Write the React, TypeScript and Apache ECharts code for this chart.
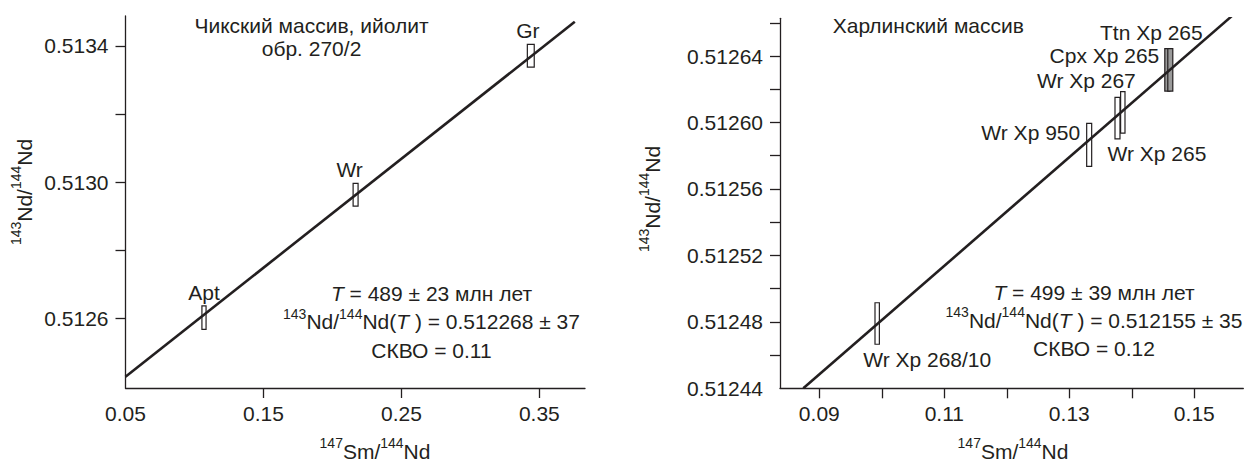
import React, { useEffect, useRef } from "react";
import * as echarts from "echarts";

// ---------- data: left panel (Чикский массив) ----------
const leftNames = ["Apt", "Wr", "Gr"];
const leftX = [0.1069, 0.2168, 0.3438];
const leftY = [0.512602, 0.512963, 0.513371];
const leftErrX = [0.0015, 0.0018, 0.0025];
const leftErrY = [0.0000345, 0.0000335, 0.0000335];
const leftIsoX = [0.05, 0.3757];
const leftIsoY = [0.512428, 0.513471];
const leftXTicks = [0.15, 0.25, 0.35];
const leftXLabels = [0.05, 0.15, 0.25, 0.35];
const leftYTicks = [0.5126, 0.5128, 0.513, 0.5132, 0.5134];
const leftYLabels = [0.5126, 0.513, 0.5134];

// ---------- data: right panel (Харлинский массив) ----------
const rightNames = ["Wr Хр 268/10", "Wr Хр 950", "Wr Хр 265", "Wr Хр 267", "Cpx Хр 265", "Ttn Хр 265"];
const rightX = [0.09926, 0.13318, 0.13771, 0.13856, 0.14568, 0.14616];
const rightY = [0.512479, 0.5125865, 0.5126026, 0.5126061, 0.5126317, 0.5126317];
const rightErrX = [0.00035, 0.0004, 0.0004, 0.00035, 0.0004, 0.0004];
const rightErrY = [0.0000125, 0.0000129, 0.0000125, 0.0000125, 0.0000128, 0.0000128];
const rightIsoX = [0.08744, 0.156];
const rightIsoY = [0.51244, 0.512664];
const rightXTicks = [0.09, 0.1, 0.11, 0.12, 0.13, 0.14, 0.15];
const rightXLabels = [0.09, 0.11, 0.13, 0.15];
const rightYTicks = [0.51246, 0.51248, 0.5125, 0.51252, 0.51254, 0.51256, 0.51258, 0.5126, 0.51262, 0.51264, 0.51266];
const rightYLabels = [0.51244, 0.51248, 0.51252, 0.51256, 0.5126, 0.51264];

// ---------- label placement (layout, relative to box centre) ----------
const leftPlace = [
  { dx: 0, dy: -25, align: "center" },
  { dx: -6, dy: -25, align: "center" },
  { dx: -3, dy: -25, align: "center" },
];
const rightPlace = [
  { dx: -14, dy: 36, align: "left" },
  { dx: -9, dy: -12.5, align: "right" },
  { dx: -10, dy: 35, align: "left" },
  { dx: 13, dy: -31.5, align: "right" },
  { dx: -8, dy: -14, align: "right" },
  { dx: 32.4, dy: -37, align: "right" },
];
const rightFill = ["#fff", "#fff", "#fff", "#fff", "#9a9a9a", "#9a9a9a"];

const INK = "#231f20";
const FONT = "'Liberation Sans', Arial, Helvetica, sans-serif";
const FS = 21;

const rich = {
  m: { fontSize: FS, fontFamily: FONT, color: INK, lineHeight: 30, verticalAlign: "middle" },
  i: { fontSize: FS, fontFamily: FONT, color: INK, fontStyle: "italic", lineHeight: 30, verticalAlign: "middle" },
  sup: { fontSize: 14, fontFamily: FONT, color: INK, lineHeight: 14, verticalAlign: "top" },
};

function boxSeries(name, xs, ys, exs, eys, names, place, fills, xIdx) {
  return {
    type: "custom",
    name,
    xAxisIndex: xIdx,
    yAxisIndex: xIdx,
    z: 2,
    data: xs.map((x, i) => [x, ys[i], exs[i], eys[i]]),
    encode: { x: 0, y: 1 },
    renderItem: (params, api) => {
      const x = api.value(0);
      const y = api.value(1);
      const ex = api.value(2);
      const ey = api.value(3);
      const p1 = api.coord([x - ex, y + ey]);
      const p2 = api.coord([x + ex, y - ey]);
      const c = api.coord([x, y]);
      const i = params.dataIndex;
      const pl = place[i];
      return {
        type: "group",
        children: [
          {
            type: "rect",
            shape: { x: p1[0], y: p1[1], width: p2[0] - p1[0], height: p2[1] - p1[1] },
            style: { fill: fills ? fills[i] : "#fff", stroke: INK, lineWidth: 1.2 },
          },
          {
            type: "text",
            x: c[0] + pl.dx,
            y: c[1] + pl.dy,
            style: {
              text: names[i],
              align: pl.align,
              verticalAlign: "middle",
              fontSize: FS,
              fontFamily: FONT,
              fill: INK,
            },
          },
        ],
      };
    },
  };
}

function lineSeries(xs, ys, idx) {
  return {
    type: "line",
    xAxisIndex: idx,
    yAxisIndex: idx,
    z: 5,
    symbol: "none",
    silent: true,
    data: xs.map((x, i) => [x, ys[i]]),
    lineStyle: { color: INK, width: 2.6 },
  };
}

function valueAxis(gridIndex, min, max, ticks, labels, digits, margin) {
  return {
    type: "value",
    gridIndex,
    min,
    max,
    axisLine: { show: true, onZero: false, lineStyle: { color: INK, width: 1.3 } },
    axisTick: { show: true, inside: false, length: 10, customValues: ticks, lineStyle: { color: INK, width: 1.3 } },
    axisLabel: {
      show: true,
      customValues: labels,
      formatter: (v) => Number(v).toFixed(digits),
      margin,
      fontSize: FS,
      fontFamily: FONT,
      color: INK,
    },
    splitLine: { show: false },
  };
}

function txt(x, y, text, align = "center", rotation = 0) {
  return {
    type: "text",
    x,
    y,
    rotation,
    style: {
      text,
      align,
      verticalAlign: "middle",
      fontSize: FS,
      fontFamily: FONT,
      fill: INK,
      rich,
    },
  };
}

const ratioLabel = "{sup|143}{m|Nd/}{sup|144}{m|Nd}";
const smLabel = "{sup|147}{m|Sm/}{sup|144}{m|Nd}";

export default function App() {
  const ref = useRef(null);
  useEffect(() => {
    const chart = echarts.init(ref.current, null, { renderer: "svg" });
    chart.setOption({
      animation: false,
      backgroundColor: "#fff",
      grid: [
        { left: 125.5, top: 16, width: 459.5, height: 372 },
        { left: 780, top: 18.3, width: 463.3, height: 370 },
      ],
      xAxis: [
        valueAxis(0, 0.05, 0.3831, leftXTicks, leftXLabels, 2, 15),
        valueAxis(1, 0.08371, 0.15784, rightXTicks, rightXLabels, 2, 15),
      ],
      yAxis: [
        valueAxis(0, 0.512395, 0.513488, leftYTicks, leftYLabels, 4, 17),
        valueAxis(1, 0.51244, 0.5126627, rightYTicks, rightYLabels, 5, 17),
      ],
      series: [
        boxSeries("left", leftX, leftY, leftErrX, leftErrY, leftNames, leftPlace, null, 0),
        lineSeries(leftIsoX, leftIsoY, 0),
        boxSeries("right", rightX, rightY, rightErrX, rightErrY, rightNames, rightPlace, rightFill, 1),
        lineSeries(rightIsoX, rightIsoY, 1),
      ],
      graphic: [
        txt(311.5, 25, "Чикский массив, ийолит"),
        txt(311.5, 48, "обр. 270/2"),
        txt(832.7, 25, "Харлинский массив", "left"),
        txt(24, 192, ratioLabel, "center", Math.PI / 2),
        txt(652, 199, ratioLabel, "center", Math.PI / 2),
        txt(375, 451, smLabel),
        txt(1013, 451, smLabel),
        txt(431.5, 293, "{i|T}{m| = 489 ± 23 млн лет}"),
        txt(431.5, 321.7, "{sup|143}{m|Nd/}{sup|144}{m|Nd(}{i|T}{m| ) = 0.512268 ± 37}"),
        txt(431.5, 350, "{m|СКВО = 0.11}"),
        txt(1094, 292.3, "{i|T}{m| = 499 ± 39 млн лет}"),
        txt(1094, 320, "{sup|143}{m|Nd/}{sup|144}{m|Nd(}{i|T}{m| ) = 0.512155 ± 35}"),
        txt(1094, 348.3, "{m|СКВО = 0.12}"),
      ],
    });
    return () => chart.dispose();
  }, []);
  return (
    <div
      ref={ref}
      style={{ position: "absolute", left: 0, top: 0, width: 1256, height: 463 }}
    />
  );
}
